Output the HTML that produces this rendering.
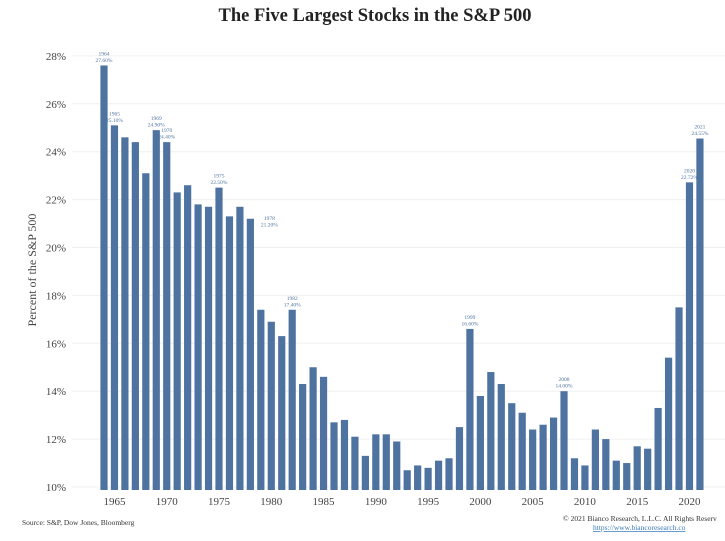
<!DOCTYPE html>
<html><head><meta charset="utf-8"><style>
body{margin:0;background:#fff;width:725px;height:536px;overflow:hidden;font-family:"Liberation Serif",serif}
</style></head><body>
<svg id="chart" width="725" height="536" xmlns="http://www.w3.org/2000/svg" font-family="Liberation Serif, serif">
<text x="375" y="21" text-anchor="middle" font-size="18.5" font-weight="bold" fill="#222">The Five Largest Stocks in the S&amp;P 500</text>
<g id="grid"></g><g id="bars"></g><g id="labels"></g>
<text transform="translate(36,270) rotate(-90)" text-anchor="middle" font-size="12" fill="#444">Percent of the S&amp;P 500</text>
<text x="22" y="525" font-size="7.5" fill="#333">Source: S&amp;P, Dow Jones, Bloomberg</text>
<text x="563" y="521" font-size="7.5" fill="#333">© 2021 Bianco Research, L.L.C. All Rights Reserv</text>
<text x="593" y="530" font-size="7.5" fill="#3a7ab8" text-decoration="underline">https://www.biancoresearch.co</text>
</svg>
<script>
const years=[1964,1965,1966,1967,1968,1969,1970,1971,1972,1973,1974,1975,1976,1977,1978,1979,1980,1981,1982,1983,1984,1985,1986,1987,1988,1989,1990,1991,1992,1993,1994,1995,1996,1997,1998,1999,2000,2001,2002,2003,2004,2005,2006,2007,2008,2009,2010,2011,2012,2013,2014,2015,2016,2017,2018,2019,2020,2021];
const values=[27.6,25.1,24.6,24.4,23.1,24.9,24.4,22.3,22.6,21.8,21.7,22.5,21.3,21.7,21.2,17.4,16.9,16.3,17.4,14.3,15.0,14.6,12.7,12.8,12.1,11.3,12.2,12.2,11.9,10.7,10.9,10.8,11.1,11.2,12.5,16.6,13.8,14.8,14.3,13.5,13.1,12.4,12.6,12.9,14.0,11.2,10.9,12.4,12.0,11.1,11.0,11.7,11.6,13.3,15.4,17.5,22.72,24.55];
const yTicks=[10,12,14,16,18,20,22,24,26,28];
const xTicks=[1965,1970,1975,1980,1985,1990,1995,2000,2005,2010,2015,2020];
const annotated=[1964,1965,1969,1970,1975,1978,1982,1999,2008,2020,2021];
const NS="http://www.w3.org/2000/svg";
const y=v=>487-(v-10)*23.95;
const x=yr=>104+(yr-1964)*10.455;
const base=490;
function mk(t,a,p){const e=document.createElementNS(NS,t);for(const k in a)e.setAttribute(k,a[k]);p.appendChild(e);return e;}
const grid=document.getElementById('grid'),bars=document.getElementById('bars'),labels=document.getElementById('labels');
yTicks.forEach(t=>{
 const l=mk('line',{x1:72,x2:725,y1:y(t),y2:y(t),stroke:'#f0f0f0','stroke-width':1},grid);
 
 
 const tx=mk('text',{x:66,y:y(t)+4,'text-anchor':'end','font-size':11,fill:'#444'},grid);
 tx.textContent=t+'%';
 
 
});
xTicks.forEach(t=>{
 const tx=mk('text',{x:x(t),y:505,'text-anchor':'middle','font-size':11,fill:'#444'},grid);
 tx.textContent=t;
 
 
});
years.forEach((yr,i)=>{
 const v=values[i];
 const r=mk('rect',{x:x(yr)-3.6,y:y(v),width:7.2,height:base-y(v),fill:'#4e73a0'},bars);
 
 
 if(annotated.includes(yr)){
  const side=yr===1978;
  const ax=side?x(yr)+19:x(yr), ay=side?y(v)+1:y(v)-10;
  const t1=mk('text',{x:ax,y:ay,'text-anchor':'middle','font-size':5.5,fill:'#4e73a0'},labels);
  t1.textContent=yr;
  
  
  const t2=mk('text',{x:ax,y:ay+6.5,'text-anchor':'middle','font-size':5.5,fill:'#4e73a0'},labels);
  t2.textContent=v.toFixed(2)+'%';
  
  
 }
});
</script>
</body></html>
